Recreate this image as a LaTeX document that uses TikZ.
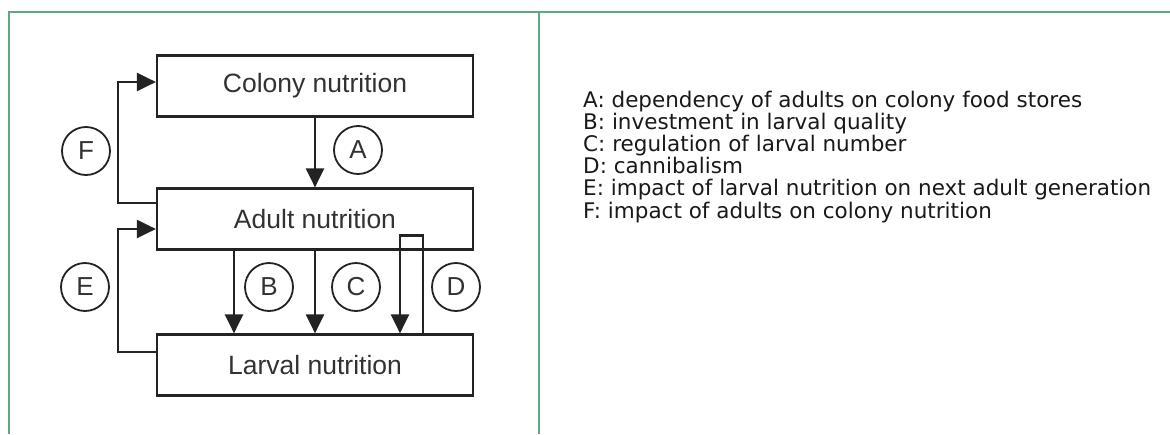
\documentclass[tikz,border=0pt]{standalone}
\usepackage{fontspec}
\setmainfont{Liberation Sans}
\newfontfamily\legendfont{DejaVu Sans}
\usetikzlibrary{positioning}
\usetikzlibrary{arrows.meta}
\definecolor{framegreen}{RGB}{95,168,127}
\definecolor{linegrey}{RGB}{35,35,35}
\definecolor{textgrey}{RGB}{50,50,50}

\begin{document}
\begin{tikzpicture}[
				x=1pt, y=-1pt,
				boxnode/.style={rectangle, draw=linegrey, line width=2.2pt, minimum width=316pt, minimum height=61pt, text=textgrey, font=\fontsize{26.5pt}{30pt}\selectfont},
				letternode/.style={circle, draw=linegrey, line width=1.8pt, minimum size=48pt, inner sep=0pt, text=textgrey, font=\fontsize{26pt}{30pt}\selectfont},
				legendnode/.style={anchor=base west, inner sep=0pt, text=black!90, font=\legendfont\fontsize{21.5pt}{24pt}\selectfont},
				arrowline/.style={draw=linegrey, line width=2.2pt, -{Triangle[length=19pt,width=18pt]}},
				frameline/.style={draw=framegreen, line width=2.2pt},
				]
				\useasboundingbox (0,0) rectangle (1170,434);
				%Frame
				\draw[frameline] (8.7,434) -- (8.7,12) -- (1170,12);
				\draw[frameline] (539,12) -- (539,434);

				%Nodes
				\node[boxnode]      (colony)  at  (315,86)      {Colony nutrition};
				\node[boxnode]      (adult)   at  (315,219)     {Adult nutrition};
				\node[boxnode]      (larval)  at  (315,365)     {Larval nutrition};
				\node[letternode]   (lf)      at  (86,151)      {F};
				\node[letternode]   (la)      at  (358,150)     {A};
				\node[letternode]   (le)      at  (85,287)      {E};
				\node[letternode]   (lb)      at  (269,287)     {B};
				\node[letternode]   (lc)      at  (356,287)     {C};
				\node[letternode]   (ld)      at  (456,287)     {D};

				%Legend
				\node[legendnode]   (keya)    at  (583,107)     {A: dependency of adults on colony food stores};
				\node[legendnode]   (keyb)    at  (583,129.2)   {B: investment in larval quality};
				\node[legendnode]   (keyc)    at  (583,151.4)   {C: regulation of larval number};
				\node[legendnode]   (keyd)    at  (583,173.6)   {D: cannibalism};
				\node[legendnode]   (keye)    at  (583,195.8)   {E: impact of larval nutrition on next adult generation};
				\node[legendnode]   (keyf)    at  (583,218)     {F: impact of adults on colony nutrition};

				%Lines
				\draw[arrowline] (colony.south) -- (adult.north);
				\draw[arrowline] ([yshift=16pt]adult.west) -- ++(-38,0) |- ([yshift=4pt]colony.west);
				\draw[arrowline] ([yshift=13pt]larval.west) -- ++(-38,0) |- ([yshift=-10pt]adult.west);
				\draw[arrowline] ([xshift=-81pt]adult.south) -- ([xshift=-81pt]larval.north);
				\draw[arrowline] (adult.south) -- (larval.north);
				\draw[arrowline] ([xshift=108pt]larval.north) -- ++(0,-98) -- ++(-23,0) -- ([xshift=85pt]larval.north);
			\end{tikzpicture}
\end{document}
